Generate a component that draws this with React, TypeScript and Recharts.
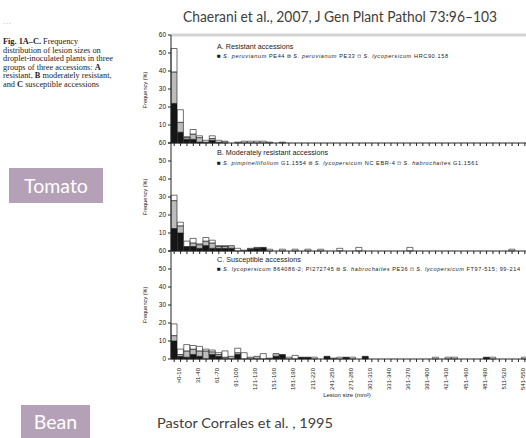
import { BarChart, Bar, XAxis, YAxis, ReferenceLine } from "recharts"

// lesion size classes (mm²); the last one is cut off by the slide edge
const sizeClasses = [
  ">0-10", "11-20", "21-30", "31-40", "41-50", "51-60", "61-70", "71-80",
  "81-90", "91-100", "101-110", "111-120", "121-130", "131-140", "141-150", "151-160",
  "161-170", "171-180", "181-190", "191-200", "201-210", "211-220", "221-230", "231-240",
  "241-250", "251-260", "261-270", "271-280", "281-290", "291-300", "301-310", "311-320",
  "321-330", "331-340", "341-350", "351-360", "361-370", "371-380", "381-390", "391-400",
  "401-410", "411-420", "421-430", "431-440", "441-450", "451-460", "461-470", "471-480",
  "481-490", "491-500", "501-510", "511-520", "521-530", "531-540", "541-550", "551-560",
]

const freqTicks = [0, 10, 20, 30, 40, 50, 60]

// A. resistant accessions
const resistantBlack = [
  22, 6, 2, 2, 0.5, 0, 1.5, 0, 0, 0, 0, 0, 0, 0, 0, 0,
  0, 0, 0, 0, 0, 0, 0, 0, 0, 0, 0, 0, 0, 0, 0, 0,
  0, 0, 0, 0, 0, 0, 0, 0, 0, 0, 0, 0, 0, 0, 0, 0,
  0, 0, 0, 0, 0, 0, 0, 0,
]
const resistantGray = [
  17.5, 5.5, 1, 3, 2.5, 0.5, 1, 0.5, 1, 0, 0, 0, 0, 0, 0, 0,
  0, 0, 0, 0, 0, 0, 0, 0, 0, 0, 0, 0, 0, 0, 0, 0,
  0, 0, 0, 0, 0, 0, 0, 0, 0, 0, 0, 0, 0, 0, 0, 0,
  0, 0, 0, 0, 0, 0, 0, 0,
]
const resistantWhite = [
  13, 7, 0.5, 2.5, 1, 1, 1.5, 1, 0, 0, 0.5, 1, 1, 1, 1, 0.5,
  0, 0.5, 0, 0, 0, 0, 0, 0, 0, 0, 0, 0, 0, 0, 0, 0,
  0, 0, 0, 0, 0, 0, 0, 0, 0, 0, 0, 0, 0, 0, 0, 0,
  0, 0, 0, 0, 0, 0, 0, 0,
]

// B. moderately resistant accessions
const moderateBlack = [
  12.5, 10, 2.5, 2.5, 1.5, 3, 1.5, 1.5, 1.5, 1.5, 0, 0, 1, 1.5, 2, 0,
  0, 0, 0, 0, 0, 0, 0, 0, 0, 0, 0, 0, 0, 0, 0, 0,
  0, 0, 0, 0, 0, 0, 0, 0, 0, 0, 0, 0, 0, 0, 0, 0,
  0, 0, 0, 0, 0, 0, 0, 0,
]
const moderateGray = [
  15.5, 4, 0, 2, 2, 2.5, 3, 1, 1, 1.5, 0, 0, 0.5, 0.5, 0, 0,
  0, 0, 0, 0, 0, 0, 0, 0, 0, 0, 0, 0, 0, 0, 0, 0,
  0, 0, 0, 0, 0, 0, 0, 0, 0, 0, 0, 0, 0, 0, 0, 0,
  0, 0, 0, 0, 0, 0, 0, 0,
]
const moderateWhite = [
  3, 2, 3, 2.5, 0.5, 2, 1.5, 0.5, 0.5, 0, 1.5, 0.5, 0, 0, 0, 1,
  0, 1, 0, 1, 0, 1, 0, 1, 0, 0, 1.5, 0, 0, 2, 0, 0,
  0, 0, 0, 0, 0, 2, 0, 0, 0, 0, 0, 0, 0, 0, 0, 0,
  0, 0, 0, 0, 0, 1, 0, 0,
]

// C. susceptible accessions
const susceptibleBlack = [
  10, 1.5, 1, 2.5, 1.5, 0, 2.5, 1.5, 0, 0, 2.5, 0, 0, 0, 0, 0,
  1.5, 2.5, 0, 0, 1, 1, 0, 0, 1.5, 0, 0, 1, 0, 0, 1.5, 0,
  0, 0, 0, 0, 0, 0, 0, 0, 0, 0, 0, 0, 0, 0, 0, 0,
  0, 1, 0, 0, 0, 0, 0, 0,
]
const susceptibleGray = [
  3, 1, 3.5, 3, 3, 4.5, 1.5, 1, 1, 1.5, 1, 0, 1, 1.5, 0, 0.5,
  1.5, 0, 0, 0, 0, 0, 0, 0, 0, 0.5, 0, 0, 0, 0, 0, 0,
  0, 0, 0, 0, 0, 0, 0, 0, 0, 0, 0, 0, 0, 0, 0, 0,
  0, 0, 0, 0, 0, 0, 0, 0,
]
const susceptibleWhite = [
  6.5, 3, 3.5, 2, 2.5, 1, 1, 1, 3.5, 0, 2.5, 3.5, 0, 0, 3, 0,
  0, 0, 1, 2, 0, 0, 1, 0, 0, 0, 1, 0, 1, 0, 0, 0,
  0, 0, 0, 0, 0, 0, 0, 0, 0, 1, 0, 1, 1, 0, 0, 0,
  0, 0, 1, 0, 0, 0, 0, 1,
]

const rowsFor = (black: number[], gray: number[], white: number[]) =>
  sizeClasses.map((size, i) => ({ size, black: black[i], gray: gray[i], white: white[i] }))

const AXIS = "#222"
const SLIDE_FONT = "Lato, 'Open Sans', sans-serif"
const FIG_FONT = "'Liberation Sans', Arial, sans-serif"
const SERIF = "'Liberation Serif', 'Times New Roman', serif"

const NoTick = () => <g />

const SizeTick = (props: any) => {
  const { x, y, payload, index } = props
  if (index % 3 !== 0) return <g />
  const tx = x + 6.5
  const ty = y + 4
  return (
    <text x={tx} y={ty} transform={`rotate(-90 ${tx} ${ty})`} textAnchor="end"
      fontSize={6} fill="#222" fontFamily={FIG_FONT}>
      {payload.value}
    </text>
  )
}

interface PanelProps {
  rows: ReturnType<typeof rowsFor>
  top: number
  xHeight: number
  last?: boolean
  frame?: boolean
}

function Panel({ rows, top, xHeight, last, frame }: PanelProps) {
  const plotH = 108
  return (
    <div style={{ position: "absolute", left: 0, top: top - 5 }}>
      <BarChart width={530} height={5 + plotH + xHeight} data={rows}
        margin={{ top: 5, right: 2, bottom: 0, left: 0 }} barCategoryGap={0} barGap={0}>
        {frame && <ReferenceLine y={60} stroke="#d4d4d4" strokeWidth={3} />}
        <XAxis dataKey="size" interval={0} height={xHeight} tickSize={3}
          stroke={AXIS} tick={last ? <SizeTick /> : <NoTick />} />
        <YAxis width={171} domain={[0, 60]} ticks={freqTicks} tickSize={3} stroke={AXIS}
          tick={{ fontSize: 6.5, fill: "#222", fontFamily: FIG_FONT }}
          tickFormatter={(v: number) => (v === 0 && !last ? "" : String(v))} />
        <Bar dataKey="black" stackId="f" fill="#161616" stroke="#111" strokeWidth={0.6} isAnimationActive={false} />
        <Bar dataKey="gray" stackId="f" fill="#bcbcbc" stroke="#111" strokeWidth={0.6} isAnimationActive={false} />
        <Bar dataKey="white" stackId="f" fill="#ffffff" stroke="#111" strokeWidth={0.6} isAnimationActive={false} />
      </BarChart>
    </div>
  )
}

function Swatch({ fill }: { fill: string }) {
  return <tspan fill={fill} stroke="#222" strokeWidth={0.35}>■</tspan>
}

function Legend({ y, width, items }: { y: number; width: number; items: { fill: string; species: string; code: string }[] }) {
  return (
    <text x={217} y={y} fontSize={5.6} fill="#222" fontFamily={FIG_FONT} textLength={width} lengthAdjust="spacing">
      {items.map((it, i) => (
        <tspan key={i}>
          <Swatch fill={it.fill} />
          <tspan fontStyle="italic"> {it.species}</tspan>
          <tspan>{"  " + it.code + " "}</tspan>
        </tspan>
      ))}
    </text>
  )
}

export default function App() {
  return (
    <div style={{ position: "absolute", left: 0, top: 0, width: 526, height: 438, overflow: "hidden", background: "#fff" }}>
      <Panel rows={rowsFor(resistantBlack, resistantGray, resistantWhite)} top={35} xHeight={6} frame />
      <Panel rows={rowsFor(moderateBlack, moderateGray, moderateWhite)} top={143} xHeight={6} />
      <Panel rows={rowsFor(susceptibleBlack, susceptibleGray, susceptibleWhite)} top={251} xHeight={40} last />

      <svg width={526} height={438} style={{ position: "absolute", left: 0, top: 0, pointerEvents: "none" }}>
        <text x={183} y={22} fontSize={14.5} fill="#404040" fontFamily={SLIDE_FONT} textLength={314} lengthAdjust="spacingAndGlyphs">
          Chaerani et al., 2007, J Gen Plant Pathol 73:96–103
        </text>
        <text x={3} y={25} fontSize={5} fill="#999" fontFamily={FIG_FONT}>- - -</text>

        <g fontFamily={SERIF} fontSize={8.3} fill="#222">
          <text x={3} y={44}><tspan fontWeight="bold">Fig. 1A–C.</tspan> Frequency</text>
          <text x={3} y={52.5}>distribution of lesion sizes on</text>
          <text x={3} y={61}>droplet-inoculated plants in three</text>
          <text x={3} y={69.5}>groups of three accessions: <tspan fontWeight="bold">A</tspan></text>
          <text x={3} y={78}>resistant, <tspan fontWeight="bold">B</tspan> moderately resistant,</text>
          <text x={3} y={86.5}>and <tspan fontWeight="bold">C</tspan> susceptible accessions</text>
        </g>

        <rect x={9} y={168} width={94} height={35} fill="#b5a1b7" />
        <text x={56} y={192.5} textAnchor="middle" fontSize={19.5} fill="#fff" fontFamily={SLIDE_FONT}>Tomato</text>

        <rect x={21} y={405} width={69} height={36} fill="#b5a1b7" />
        <text x={55.5} y={429} textAnchor="middle" fontSize={19.5} fill="#fff" fontFamily={SLIDE_FONT}>Bean</text>

        <text x={157} y={428} fontSize={14} fill="#404040" fontFamily={SLIDE_FONT} textLength={176} lengthAdjust="spacingAndGlyphs">
          Pastor Corrales et al. , 1995
        </text>

        <g fontFamily={FIG_FONT} fill="#222">
          <text x={217} y={48.5} fontSize={7.2}>A. Resistant accessions</text>
          <text x={217} y={155} fontSize={7.2}>B. Moderately resistant accessions</text>
          <text x={217} y={262} fontSize={7.2}>C. Susceptible accessions</text>
          {[90, 197, 305].map((cy) => (
            <text key={cy} x={147} y={cy} fontSize={5.6} textAnchor="middle" transform={`rotate(-90 147 ${cy})`}>
              Frequency (%)
            </text>
          ))}
          <text x={347} y={397} fontSize={6} textAnchor="middle">Lesion size (mm²)</text>
        </g>

        <Legend y={58} width={231} items={[
          { fill: "#161616", species: "S. peruvianum", code: "PE44" },
          { fill: "#bcbcbc", species: "S. peruvianum", code: "PE33" },
          { fill: "#ffffff", species: "S. lycopersicum", code: "HRC90.158" },
        ]} />
        <Legend y={164.5} width={261} items={[
          { fill: "#161616", species: "S. pimpinellifolium", code: "G1.1554" },
          { fill: "#bcbcbc", species: "S. lycopersicum", code: "NC EBR-4" },
          { fill: "#ffffff", species: "S. habrochaites", code: "G1.1561" },
        ]} />
        <Legend y={271} width={303} items={[
          { fill: "#161616", species: "S. lycopersicum", code: "864086-2; PI272745" },
          { fill: "#bcbcbc", species: "S. habrochaites", code: "PE36" },
          { fill: "#ffffff", species: "S. lycopersicum", code: "FT97-515; 99-214" },
        ]} />
      </svg>
    </div>
  )
}
